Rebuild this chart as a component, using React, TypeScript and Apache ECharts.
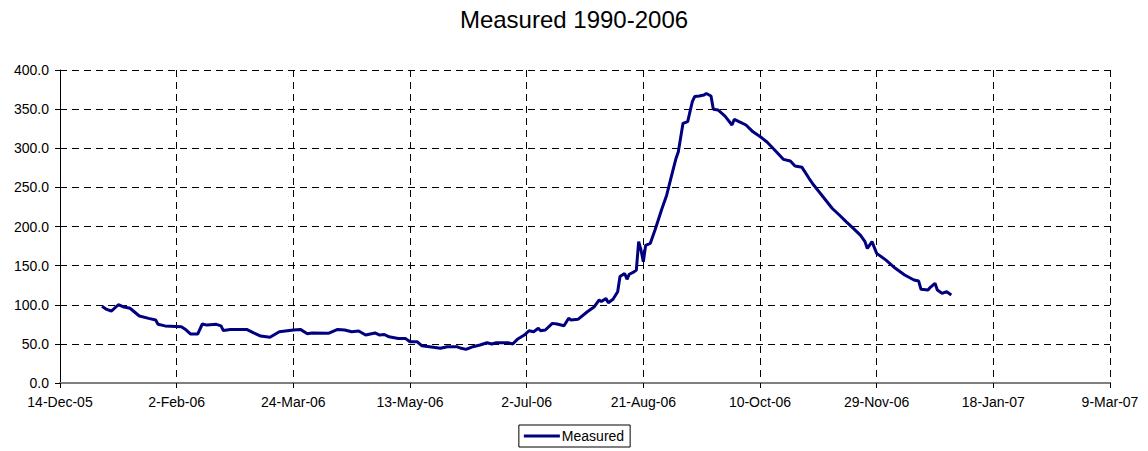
import React, { useEffect, useRef } from "react";
import * as echarts from "echarts";

const title = "Measured 1990-2006";
const seriesName = "Measured";
const axisStart = "2005-12-14";
const axisSpanDays = 450;
const tickDays = 50;
const yTicks = [0, 50, 100, 150, 200, 250, 300, 350, 400];
const monthNames = ["Jan", "Feb", "Mar", "Apr", "May", "Jun", "Jul", "Aug", "Sep", "Oct", "Nov", "Dec"];

const dates = [
  "2006-01-01", "2006-01-03", "2006-01-05", "2006-01-08", "2006-01-10", "2006-01-13", "2006-01-17", "2006-01-21",
  "2006-01-24", "2006-01-25", "2006-01-28", "2006-02-04", "2006-02-06", "2006-02-08", "2006-02-11", "2006-02-13",
  "2006-02-15", "2006-02-19", "2006-02-21", "2006-02-22", "2006-02-25", "2006-03-04", "2006-03-07", "2006-03-10",
  "2006-03-14", "2006-03-18", "2006-03-24", "2006-03-27", "2006-03-30", "2006-04-01", "2006-04-08", "2006-04-12",
  "2006-04-15", "2006-04-18", "2006-04-21", "2006-04-24", "2006-04-28", "2006-04-30", "2006-05-02", "2006-05-04",
  "2006-05-08", "2006-05-11", "2006-05-13", "2006-05-16", "2006-05-18", "2006-05-23", "2006-05-26", "2006-05-29",
  "2006-06-02", "2006-06-04", "2006-06-06", "2006-06-09", "2006-06-12", "2006-06-15", "2006-06-17", "2006-06-19",
  "2006-06-24", "2006-06-26", "2006-06-28", "2006-07-01", "2006-07-03", "2006-07-05", "2006-07-07", "2006-07-08",
  "2006-07-10", "2006-07-13", "2006-07-15", "2006-07-18", "2006-07-20", "2006-07-21", "2006-07-24", "2006-07-28",
  "2006-07-31", "2006-08-02", "2006-08-03", "2006-08-05", "2006-08-06", "2006-08-08", "2006-08-10", "2006-08-11",
  "2006-08-13", "2006-08-14", "2006-08-15", "2006-08-17", "2006-08-18", "2006-08-19", "2006-08-20", "2006-08-21",
  "2006-08-22", "2006-08-24", "2006-08-26", "2006-08-29", "2006-08-31", "2006-09-01", "2006-09-02", "2006-09-04",
  "2006-09-05", "2006-09-07", "2006-09-09", "2006-09-11", "2006-09-12", "2006-09-14", "2006-09-16", "2006-09-17",
  "2006-09-19", "2006-09-20", "2006-09-22", "2006-09-25", "2006-09-28", "2006-09-29", "2006-10-01", "2006-10-04",
  "2006-10-07", "2006-10-10", "2006-10-13", "2006-10-17", "2006-10-20", "2006-10-23", "2006-10-25", "2006-10-28",
  "2006-10-31", "2006-11-02", "2006-11-06", "2006-11-10", "2006-11-13", "2006-11-16", "2006-11-19", "2006-11-22",
  "2006-11-24", "2006-11-25", "2006-11-27", "2006-11-29", "2006-12-03", "2006-12-07", "2006-12-11", "2006-12-15",
  "2006-12-17", "2006-12-18", "2006-12-21", "2006-12-22", "2006-12-24", "2006-12-25", "2006-12-27", "2006-12-29",
  "2006-12-31",
];

const measured = [
  98, 94, 92, 100, 97.5, 95.5, 85.6, 82.6,
  80.5, 75, 73, 72, 68, 62.6, 62.6, 75.4,
  74, 75, 73, 67, 68.5, 68.5, 64, 60,
  58.4, 65.6, 67.7, 68.5, 63, 64, 63.5, 68.5,
  67.7, 65.6, 66.5, 61.3, 64, 61.3, 62, 59,
  57, 57, 52.8, 52.8, 47.7, 45.6, 44.3, 46.4,
  46.4, 44.3, 43, 46.4, 48.6, 51.5, 49.8, 51.5,
  51.5, 49.8, 55.8, 61.3, 66.8, 65.6, 69.9, 66.8,
  67.7, 76.2, 75.4, 73.2, 82.7, 80.5, 81.4, 91,
  97.5, 106, 104, 108, 102.6, 107, 116.7, 136,
  140, 132.5, 139, 142, 144.4, 180.6, 170, 155,
  176, 178.5, 195.5, 223, 240, 251.8, 263.6, 287,
  295.6, 331.8, 334, 359.5, 366, 366.8, 368, 370,
  366.8, 349.8, 349, 341, 329.7, 337, 334, 329.7,
  321, 315, 308, 295.6, 285.8, 283.7, 277.3, 275.6,
  261.6, 253, 238, 223, 214.7, 206, 197.7, 189,
  180.6, 172, 180.6, 165.7, 157, 146.6, 138, 131.6,
  130.3, 119.7, 118.8, 122.3, 127.4, 118.8, 114.6, 116.7,
  112.5,
];

const DAY = 86400000;
const toUTC = (s: string) => {
  const [y, m, d] = s.split("-").map(Number);
  return Date.UTC(y, m - 1, d);
};
const origin = toUTC(axisStart);
const dayOf = (s: string) => Math.round((toUTC(s) - origin) / DAY);
const fmtDay = (v: number) => {
  const d = new Date(origin + Math.round(v) * DAY);
  return `${d.getUTCDate()}-${monthNames[d.getUTCMonth()]}-${String(d.getUTCFullYear() % 100).padStart(2, "0")}`;
};

const FONT = "'Liberation Sans', Arial, sans-serif";

export default function App() {
  const ref = useRef<HTMLDivElement>(null);
  useEffect(() => {
    document.body.style.margin = "0";
    const chart = echarts.init(ref.current!, null, { renderer: "svg" });
    chart.setOption({
      animation: false,
      backgroundColor: "#ffffff",
      textStyle: { fontFamily: FONT },
      title: {
        text: title,
        left: "center",
        top: 2,
        textStyle: { fontFamily: FONT, fontSize: 24, fontWeight: "normal", color: "#000" },
      },
      legend: {
        data: [seriesName],
        left: "center",
        top: 425,
        icon: "rect",
        itemWidth: 36,
        itemHeight: 3,
        itemGap: 2,
        padding: [4, 6, 4, 5],
        borderColor: "#000",
        borderWidth: 1,
        textStyle: { fontFamily: FONT, fontSize: 14, color: "#000", padding: [0, 0, 0, -3] },
      },
      grid: { left: 60, right: 38, top: 70, bottom: 68, containLabel: false },
      xAxis: {
        type: "value",
        min: 0,
        max: axisSpanDays,
        interval: tickDays,
        axisLine: { show: true, onZero: false, lineStyle: { color: "#808080", width: 2 } },
        axisTick: { show: true, length: 5, lineStyle: { color: "#000", width: 1 } },
        axisLabel: {
          formatter: (v: number) => fmtDay(v),
          fontFamily: FONT,
          fontSize: 14,
          color: "#000",
          margin: 12,
          showMinLabel: true,
          showMaxLabel: true,
        },
        splitLine: { show: true, lineStyle: { color: "#000", type: [7, 5], width: 1 } },
      },
      yAxis: {
        type: "value",
        min: yTicks[0],
        max: yTicks[yTicks.length - 1],
        interval: yTicks[1] - yTicks[0],
        axisLine: { show: true, lineStyle: { color: "#000", width: 1 } },
        axisTick: { show: true, length: 5, lineStyle: { color: "#000", width: 1 } },
        axisLabel: {
          formatter: (v: number) => v.toFixed(1),
          fontFamily: FONT,
          fontSize: 14,
          color: "#000",
          margin: 11,
        },
        splitLine: { show: true, lineStyle: { color: "#000", type: [7, 5], width: 1 } },
      },
      series: [
        {
          name: seriesName,
          type: "line",
          symbol: "none",
          data: dates.map((d, i) => [dayOf(d), measured[i]]),
          lineStyle: { color: "#000080", width: 3 },
          itemStyle: { color: "#000080" },
        },
      ],
    });
    return () => chart.dispose();
  }, []);
  return <div ref={ref} style={{ width: 1148, height: 451 }} />;
}
